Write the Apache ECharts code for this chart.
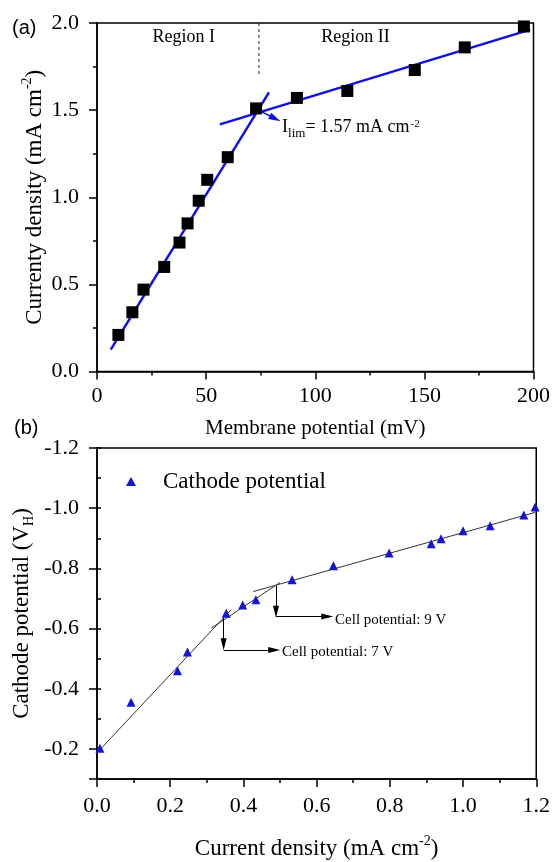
<!DOCTYPE html>
<html><head><meta charset="utf-8">
<script src="https://cdn.jsdelivr.net/npm/echarts@6/dist/echarts.min.js"></script>
<style>html,body{margin:0;padding:0;background:#fff}#c{width:553px;height:862px}</style>
</head><body><div id="c"></div>
<script>
// ---------- (a) ----------
const membranePotential = [9.8, 16.2, 21.3, 30.8, 37.8, 41.5, 46.6, 50.5, 59.9, 72.9, 91.6, 114.7, 145.6, 168.5, 195.6];
const currentyDensity   = [0.21, 0.34, 0.47, 0.60, 0.74, 0.85, 0.98, 1.10, 1.23, 1.51, 1.57, 1.61, 1.73, 1.86, 1.98];
const fitRegionIX  = [6.3, 78.8];   const fitRegionIY  = [0.125, 1.602];
const fitRegionIIX = [56.3, 198.5]; const fitRegionIIY = [1.418, 1.962];
const boundaryX = [74.2, 74.2];     const boundaryY = [2.0, 1.70];
const ilimArrowX = [75.3, 81.6];    const ilimArrowY = [1.491, 1.452];
const ilimLabelAt = [83.9, 1.40];
const regionLabels = ['Region I', 'Region II'];
const regionLabelX = [39.8, 118.4]; const regionLabelY = [1.921, 1.921];
const aXTicks = [0, 50, 100, 150, 200];
const aYTicks = [0.0, 0.5, 1.0, 1.5, 2.0];

// ---------- (b) ----------
const currentDensity   = [0.008, 0.093, 0.220, 0.247, 0.353, 0.398, 0.434, 0.533, 0.646, 0.798, 0.913, 0.940, 1.000, 1.074, 1.166, 1.197];
const cathodePotential = [-0.202, -0.355, -0.460, -0.522, -0.651, -0.678, -0.696, -0.762, -0.809, -0.851, -0.882, -0.898, -0.925, -0.942, -0.977, -1.004];
const fitAX = [0.01, 0.366];  const fitAY = [-0.20, -0.662];
const fitBX = [0.312, 0.50];  const fitBY = [-0.601, -0.753];
const fitCX = [0.427, 1.197]; const fitCY = [-0.723, -0.986];
const arrowsFrom = [[0.346, -0.635], [0.346, -0.529], [0.489, -0.742], [0.489, -0.640]];
const arrowsTo   = [[0.346, -0.548], [0.484, -0.529], [0.489, -0.656], [0.629, -0.640]];
const cellLabels = ['Cell potential: 7 V', 'Cell potential: 9 V'];
const cellLabelX = [0.50, 0.645]; const cellLabelY = [-0.522, -0.629];
const bXTicks = [0.0, 0.2, 0.4, 0.6, 0.8, 1.0, 1.2];
const bYTicks = [-1.2, -1.0, -0.8, -0.6, -0.4, -0.2];
const bYMax = -0.1;

const SERIF = 'Liberation Serif';
const BLACK = '#000';
const BLUE = '#1010e8';
const TXT = '#000';
const zip = (a, b) => a.map((v, i) => [v, b[i]]);

function baseAxis(extra) {
  return Object.assign({
    type: 'value',
    splitLine: {show: false},
    nameMoveOverlap: false,
    axisLine: {show: true, onZero: false, lineStyle: {color: BLACK, width: 1.5}},
    axisTick: {show: true, inside: false, length: 8, lineStyle: {color: BLACK, width: 1.5}},
    axisLabel: {color: TXT, fontFamily: SERIF, fontSize: 22},
    nameTextStyle: {color: TXT, fontFamily: SERIF}
  }, extra);
}
function richName(sz) {
  return {
    color: TXT, fontFamily: SERIF, fontSize: sz,
    rich: {
      n: {fontFamily: SERIF, fontSize: sz, lineHeight: sz + 6, color: TXT},
      p: {fontFamily: SERIF, fontSize: Math.round(sz * 0.6), lineHeight: Math.round(sz * 0.6), verticalAlign: 'top', color: TXT},
      s: {fontFamily: SERIF, fontSize: Math.round(sz * 0.6), lineHeight: Math.round(sz * 0.6), verticalAlign: 'bottom', color: TXT}
    }
  };
}

const chart = echarts.init(document.getElementById('c'), null, {renderer: 'canvas'});
const option = {
  animation: false,
  backgroundColor: '#fff',
  grid: [
    {left: 97, top: 23, width: 440, height: 348.5, show: true, borderColor: BLACK, borderWidth: 1.5, containLabel: false},
    {left: 97, top: 448, width: 440, height: 331, show: true, borderColor: BLACK, borderWidth: 1.5, containLabel: false}
  ],
  legend: {
    data: ['Cathode potential'], left: 121, top: 465, itemWidth: 10, itemHeight: 9,
    formatter: '{t|{name}}',
    textStyle: {rich: {t: {fontFamily: SERIF, fontSize: 23, color: TXT, padding: [0, 0, 0, 22]}}}
  },
  graphic: [
    {type: 'text', left: 12, top: 18, style: {text: '(a)', fontFamily: 'Liberation Sans', fontSize: 20, fill: TXT}},
    {type: 'text', left: 14, top: 418, style: {text: '(b)', fontFamily: 'Liberation Sans', fontSize: 20, fill: TXT}}
  ],
  xAxis: [
    baseAxis({gridIndex: 0, min: aXTicks[0], max: aXTicks[aXTicks.length - 1], interval: aXTicks[1] - aXTicks[0],
      minorTick: {show: true, splitNumber: 2, length: 4, lineStyle: {color: BLACK, width: 1.5}},
      axisLabel: {color: TXT, fontFamily: SERIF, fontSize: 22, margin: 14, formatter: v => String(Math.round(v))},
      name: 'Membrane potential (mV)', nameLocation: 'middle', nameGap: 46,
      nameTextStyle: {color: TXT, fontFamily: SERIF, fontSize: 21}}),
    baseAxis({gridIndex: 1, min: bXTicks[0], max: bXTicks[bXTicks.length - 1], interval: 0.2,
      minorTick: {show: true, splitNumber: 2, length: 4, lineStyle: {color: BLACK, width: 1.5}},
      axisLabel: {color: TXT, fontFamily: SERIF, fontSize: 22, margin: 16, formatter: v => v.toFixed(1)},
      name: '{n|Current density (mA cm}{p|-2}{n|)}', nameLocation: 'middle', nameGap: 55,
      nameTextStyle: richName(23)})
  ],
  yAxis: [
    baseAxis({gridIndex: 0, min: aYTicks[0], max: aYTicks[aYTicks.length - 1], interval: 0.5,
      minorTick: {show: true, splitNumber: 2, length: 4, lineStyle: {color: BLACK, width: 1.5}},
      axisLabel: {color: TXT, fontFamily: SERIF, fontSize: 22, margin: 18, formatter: v => v.toFixed(1)},
      name: '{n|Currenty density (mA cm}{p|-2}{n|)}', nameLocation: 'middle', nameGap: 48,
      nameTextStyle: richName(23)}),
    baseAxis({gridIndex: 1, min: bYTicks[0], max: bYMax, interval: 0.2, inverse: true,
      axisLabel: {color: TXT, fontFamily: SERIF, fontSize: 22, margin: 18,
        formatter: v => (Math.abs(Math.round(v * 10)) % 2 === 0 ? v.toFixed(1) : '')},
      name: '{n|Cathode potential (V}{s|H}{n|)}', nameLocation: 'middle', nameGap: 61,
      nameTextStyle: richName(23)}),
    baseAxis({gridIndex: 1, min: bYTicks[0], max: bYMax, interval: 0.1, inverse: true,
      axisLine: {show: false}, axisLabel: {show: false},
      axisTick: {show: true, inside: false, length: 4, lineStyle: {color: BLACK, width: 1.5}}})
  ],
  series: [
    // ----- (a)
    {type: 'line', xAxisIndex: 0, yAxisIndex: 0, data: zip(fitRegionIX, fitRegionIY), symbol: 'none',
      lineStyle: {color: BLUE, width: 2.5}, z: 3, silent: true},
    {type: 'line', xAxisIndex: 0, yAxisIndex: 0, data: zip(fitRegionIIX, fitRegionIIY), symbol: 'none',
      lineStyle: {color: BLUE, width: 2.5}, z: 3, silent: true},
    {type: 'line', xAxisIndex: 0, yAxisIndex: 0, data: zip(boundaryX, boundaryY), symbol: 'none',
      lineStyle: {color: '#222', width: 1, type: [3, 3]}, z: 3, silent: true},
    {type: 'scatter', xAxisIndex: 0, yAxisIndex: 0, data: zip(membranePotential, currentyDensity),
      symbol: 'rect', symbolSize: 12, itemStyle: {color: '#000', opacity: 1}, z: 4, silent: true},
    {type: 'scatter', xAxisIndex: 0, yAxisIndex: 0, symbolSize: 0, silent: true, z: 5, itemStyle: {opacity: 1},
      data: regionLabels.map((t, i) => ({value: [regionLabelX[i], regionLabelY[i]],
        label: {show: true, position: 'inside', formatter: t, fontFamily: SERIF, fontSize: 18, color: TXT}}))},
    {type: 'scatter', xAxisIndex: 0, yAxisIndex: 0, symbolSize: 0, silent: true, z: 5, itemStyle: {opacity: 1},
      data: [{value: ilimLabelAt, label: {show: true, position: 'right', distance: 2,
        formatter: '{a|I}{s|lim}{a|= 1.57 mA cm}{p|-2}',
        rich: {
          a: {fontFamily: SERIF, fontSize: 18, lineHeight: 26, color: TXT},
          s: {fontFamily: SERIF, fontSize: 13, lineHeight: 13, verticalAlign: 'bottom', color: TXT},
          p: {fontFamily: SERIF, fontSize: 11, lineHeight: 11, verticalAlign: 'top', color: TXT, padding: [4, 0, 0, 1]}
        }}}],
      markLine: {silent: true, animation: false, symbol: ['none', 'triangle'], symbolSize: [7, 12],
        label: {show: false}, emphasis: {disabled: true},
        lineStyle: {color: BLUE, width: 1.5, type: 'solid', opacity: 1},
        data: [[{coord: [ilimArrowX[0], ilimArrowY[0]]}, {coord: [ilimArrowX[1], ilimArrowY[1]]}]]}},
    // ----- (b)
    {type: 'line', xAxisIndex: 1, yAxisIndex: 1, data: zip(fitAX, fitAY), symbol: 'none',
      lineStyle: {color: '#333', width: 1}, z: 3, silent: true},
    {type: 'line', xAxisIndex: 1, yAxisIndex: 1, data: zip(fitBX, fitBY), symbol: 'none',
      lineStyle: {color: '#333', width: 1}, z: 3, silent: true},
    {type: 'line', xAxisIndex: 1, yAxisIndex: 1, data: zip(fitCX, fitCY), symbol: 'none',
      lineStyle: {color: '#333', width: 1}, z: 3, silent: true},
    {name: 'Cathode potential', type: 'scatter', xAxisIndex: 1, yAxisIndex: 1,
      data: zip(currentDensity, cathodePotential), symbol: 'triangle', symbolSize: 9,
      itemStyle: {color: '#1414d2', opacity: 1}, z: 4, silent: true},
    {type: 'scatter', xAxisIndex: 1, yAxisIndex: 1, symbolSize: 0, silent: true, z: 5, itemStyle: {opacity: 1},
      data: cellLabels.map((t, i) => ({value: [cellLabelX[i], cellLabelY[i]],
        label: {show: true, position: 'right', distance: 2, formatter: t, fontFamily: SERIF, fontSize: 15, color: TXT}})),
      markLine: {silent: true, animation: false, symbol: ['none', 'triangle'], symbolSize: [6, 12],
        label: {show: false}, emphasis: {disabled: true},
        lineStyle: {color: BLACK, width: 1, type: 'solid', opacity: 1},
        data: arrowsFrom.map((f, i) => [{coord: f}, {coord: arrowsTo[i]}])}}
  ]
};
chart.setOption(option);
</script></body></html>
